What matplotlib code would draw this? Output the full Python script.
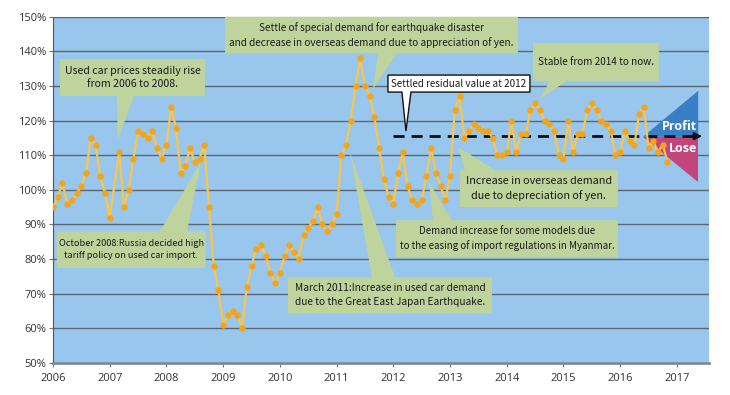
import numpy as np
import matplotlib.pyplot as plt
from matplotlib.patches import Polygon

# Tick labels
years = list(range(2006, 2018))
pct_ticks = list(range(50, 151, 10))

# Monthly used car price index (%), Jan..Dec of each year (Feb 2007 not plotted)
v2006 = [95, 98, 102, 96, 97, 99, 101, 105, 115, 113, 104, 99]
v2007 = [92, np.nan, 111, 95, 100, 109, 117, 116, 115, 117, 112, 109]
v2008 = [113, 124, 118, 105, 107, 112, 108, 109, 113, 95, 78, 71]
v2009 = [61, 64, 65, 64, 60, 72, 78, 83, 84, 81, 76, 73]
v2010 = [76, 81, 84, 82, 80, 87, 89, 91, 95, 90, 88, 90]
v2011 = [93, 110, 113, 120, 130, 138, 130, 127, 121, 112, 103, 98]
v2012 = [96, 105, 111, 101, 97, 96, 97, 104, 112, 105, 101, 97]
v2013 = [104, 123, 127, 115, 117, 119, 118, 117, 117, 115, 110, 110]
v2014 = [111, 120, 111, 116, 116, 123, 125, 123, 120, 119, 117, 110]
v2015 = [109, 120, 111, 116, 116, 123, 125, 123, 120, 119, 117, 110]
v2016 = [111, 117, 114, 113, 122, 124, 112, 114, 111, 113, 108]

settled_level = 115.5

values = np.array(v2006 + v2007 + v2008 + v2009 + v2010 + v2011 +
                  v2012 + v2013 + v2014 + v2015 + v2016, dtype=float)
dates = 2006 + np.arange(len(values)) / 12
ok = ~np.isnan(values)

fig = plt.figure(figsize=(7.3, 3.95), dpi=100)
ax = fig.add_axes([0.0726, 0.081, 0.899, 0.8767])
ax.set_facecolor('#99c6ec')
ax.set_xlim(2006, 2017.57)
ax.set_ylim(50, 150)


def P(x, y):
    # pixel position in the 730x395 picture -> data coordinates
    return (2006 + (x - 53) / 56.73, 150 - (y - 16.7) / 3.46)


def callout(text, box, base, tip, side='bottom', fc='#bed49c', ec='none',
            fs=7.6, weight='normal'):
    x0, y0, x1, y1 = box
    b1, b2 = base
    if side == 'bottom':
        pts = [(x0, y0), (x1, y0), (x1, y1), (b2, y1), tip, (b1, y1), (x0, y1)]
    else:
        pts = [(x0, y0), (b1, y0), tip, (b2, y0), (x1, y0), (x1, y1), (x0, y1)]
    poly = Polygon([P(*p) for p in pts], closed=True, facecolor=fc,
                   edgecolor=ec, lw=1, zorder=6, clip_on=False)
    ax.add_patch(poly)
    cx, cy = P((x0 + x1) / 2, (y0 + y1) / 2)
    ax.text(cx, cy, text, ha='center', va='center', fontsize=fs,
            family=['Noto Sans CJK JP', 'DejaVu Sans'], color='#1a1a1a',
            linespacing=1.45, zorder=7, weight=weight)


# grid
for v in pct_ticks[1:]:
    ax.axhline(v, color='#5d6670', lw=1, zorder=1)

# profit / lose triangles
ax.add_patch(Polygon([P(643, 136.7), P(698.3, 90.7), P(698.3, 136.7)],
                     closed=True, facecolor='#3a7fc6', edgecolor='none', zorder=2))
ax.add_patch(Polygon([P(643, 136.7), P(698.3, 136.7), P(698.3, 181.7)],
                     closed=True, facecolor='#c4447c', edgecolor='none', zorder=2))
ax.text(*P(680, 126), 'Profit', color='white', fontsize=9, weight='bold',
        ha='center', va='center', family='Open Sans', zorder=3)
ax.text(*P(683, 148.5), 'Lose', color='white', fontsize=9, weight='bold',
        ha='center', va='center', family='Open Sans', zorder=3)

# settled level dashed arrow
x_start = P(393, 0)[0]
x_end = P(693, 0)[0]
ax.plot([x_start, x_end], [settled_level, settled_level], color='#111111',
        lw=2, dashes=(4, 2.5), zorder=3)
ax.annotate('', xy=(P(705, 0)[0], settled_level), xytext=(x_end - 0.1, settled_level),
            arrowprops=dict(arrowstyle='-|>', color='#111111', lw=1.5,
                            mutation_scale=11), zorder=3)

# data line
ax.plot(dates[ok], values[ok], color='#f8c64c', lw=1.6, marker='o', ms=4.6,
        mfc='#f1a51c', mec='none', zorder=4)

# callouts
callout('Used car prices steadily rise\nfrom 2006 to 2008.',
        (60, 59, 205, 96), (117, 134), (117.5, 140))
callout('October 2008:Russia decided high\ntariff policy on used car import.',
        (56.7, 231, 205.7, 267.7), (160, 187), (201, 162), side='top', fs=6.6)
callout('Settle of special demand for earthquake disaster\n'
        'and decrease in overseas demand due to appreciation of yen.',
        (225, 16.7, 518, 53.3), (378, 397), (373, 89), fs=7.2)
callout('Settled residual value at 2012', (388, 75, 530, 92), (402, 411),
        (406, 131), fc='white', ec='#111111', fs=7.1)
callout('Increase in overseas demand\ndue to depreciation of yen.',
        (460, 170, 618, 207), (465, 495), (458, 147), side='top', fs=7.8)
callout('Demand increase for some models due\n'
        'to the easing of import regulations in Myanmar.',
        (396, 220, 618, 257), (433, 452), (429, 182), side='top', fs=7.0)
callout('Stable from 2014 to now.', (533, 43, 659, 81), (550, 567),
        (539.5, 99), fs=7.2)
callout('March 2011:Increase in used car demand\n'
        'due to the Great East Japan Earthquake.',
        (288, 277, 492, 313), (372, 395), (350, 152), side='top', fs=7.3)

# axes styling
ax.set_xticks(years)
ax.set_xticklabels([str(y) for y in years], family='Open Sans', fontsize=8,
                   color='#333333')
ax.set_yticks(pct_ticks)
ax.set_yticklabels([f'{v}%' for v in pct_ticks], family='Open Sans',
                   fontsize=8, color='#333333')
ax.tick_params(axis='both', length=3, color='#777777', pad=2)
ax.tick_params(axis='x', pad=4)
for s in ['top', 'right']:
    ax.spines[s].set_visible(False)
ax.spines['left'].set_color('#555555')
ax.spines['bottom'].set_color('#7d8c9c')
ax.spines['bottom'].set_linewidth(2)

fig.savefig('out.png', dpi=100)
